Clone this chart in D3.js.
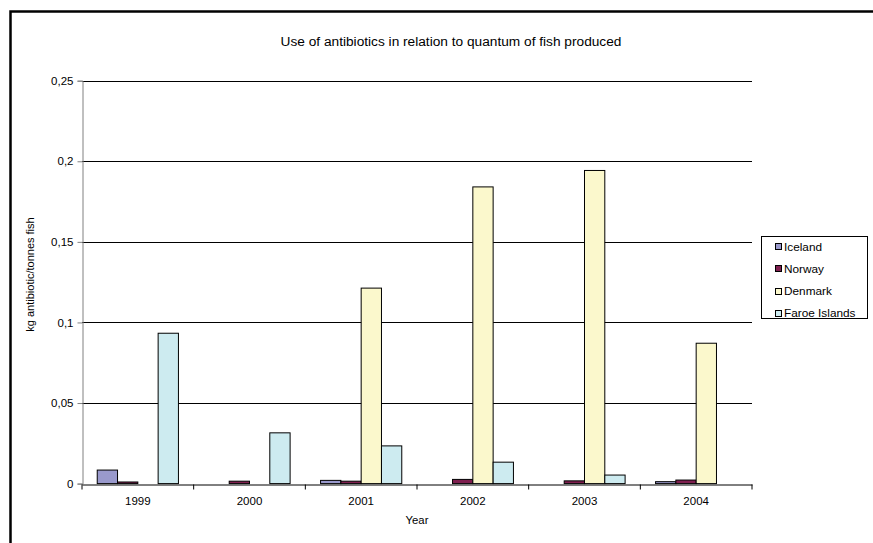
<!DOCTYPE html>
<html>
<head>
<meta charset="utf-8">
<script src="https://cdn.jsdelivr.net/npm/d3@7"></script>
<style>
  html, body { margin: 0; padding: 0; background: #fff; }
  svg text { font-family: "Liberation Sans", Arial, sans-serif; fill: #000; }
</style>
</head>
<body>
<svg id="chart" width="873" height="543"></svg>
<script>
const years = ["1999", "2000", "2001", "2002", "2003", "2004"];
const seriesNames = ["Iceland", "Norway", "Denmark", "Faroe Islands"];
const iceland = [0.0084, 0, 0.0020, 0, 0, 0.0012];
const norway = [0.0010, 0.0015, 0.0015, 0.0026, 0.0017, 0.0022];
const denmark = [0, 0, 0.1213, 0.1841, 0.1943, 0.0871];
const faroe = [0.0933, 0.0315, 0.0234, 0.0133, 0.0053, 0];
const yTicks = [0, 0.05, 0.1, 0.15, 0.2, 0.25];
const colors = ["#9999cc", "#7f1f4f", "#fbf8cc", "#cdebf0"];

const seriesValues = [iceland, norway, denmark, faroe];

const svg = d3.select("#chart");

// outer frame
svg.append("rect")
  .attr("x", 10.5).attr("y", 11.5)
  .attr("width", 900).attr("height", 600)
  .attr("fill", "none").attr("stroke", "#000").attr("stroke-width", 2.5);

const pLeft = 82, pRight = 752, pTop = 80.7, pBottom = 483.6;

const x = d3.scaleBand().domain(years).range([pLeft, pRight]).paddingInner(0).paddingOuter(0);
const xs = d3.scaleBand().domain(d3.range(seriesNames.length)).range([0, x.bandwidth()]).paddingInner(0).paddingOuter(0.75);
const y = d3.scaleLinear().domain([0, 0.25]).range([pBottom, pTop]);

const fmt = v => String(v).replace(".", ",");

// gridlines
svg.append("g").selectAll("line").data(yTicks.filter(t => t > 0)).join("line")
  .attr("x1", pLeft).attr("x2", pRight)
  .attr("y1", d => Math.round(y(d)) + 0.5).attr("y2", d => Math.round(y(d)) + 0.5)
  .attr("stroke", "#000").attr("stroke-width", 1);

// bars
seriesValues.forEach((vals, si) => {
  svg.append("g").selectAll("rect").data(vals.map((v, i) => ({ v, yr: years[i] })).filter(d => d.v > 0)).join("rect")
    .attr("x", d => x(d.yr) + xs(si))
    .attr("width", xs.bandwidth())
    .attr("y", d => y(d.v))
    .attr("height", d => pBottom - y(d.v))
    .attr("fill", colors[si])
    .attr("stroke", "#000").attr("stroke-width", 1);
});

// y axis
const yAxis = d3.axisLeft(y).tickValues(yTicks).tickFormat(fmt).tickSize(5).tickPadding(4);
const gy = svg.append("g").attr("transform", `translate(${pLeft + 0.5},0)`).call(yAxis);
gy.select(".domain").attr("stroke", "#808080");
gy.selectAll(".tick line").attr("stroke", "#808080");
gy.selectAll("text").attr("font-size", 11.5).attr("fill", "#000")
  .attr("font-family", "Liberation Sans, Arial, sans-serif");

// x axis
const xAxis = d3.axisBottom(x).tickSize(0).tickPadding(12);
const gx = svg.append("g").attr("transform", `translate(0,${Math.round(pBottom) + 0.5})`).call(xAxis);
gx.select(".domain").attr("stroke", "#000");
gx.selectAll("text").attr("font-size", 11.5).attr("fill", "#000")
  .attr("font-family", "Liberation Sans, Arial, sans-serif");
// category separator ticks
gx.append("g").selectAll("line").data(years.concat(["end"])).join("line")
  .attr("x1", (d, i) => pLeft + i * x.step()).attr("x2", (d, i) => pLeft + i * x.step())
  .attr("y1", 0).attr("y2", 5).attr("stroke", "#000");

// title
svg.append("text").attr("x", 451).attr("y", 46).attr("text-anchor", "middle")
  .attr("font-size", 13.7).text("Use of antibiotics in relation to quantum of fish produced");

// axis titles
svg.append("text").attr("x", (pLeft + pRight) / 2).attr("y", 524).attr("text-anchor", "middle")
  .attr("font-size", 11.3).text("Year");
svg.append("text").attr("transform", `translate(34,274.5) rotate(-90)`)
  .attr("text-anchor", "middle").attr("font-size", 11).text("kg antibiotic/tonnes fish");

// legend
const lg = svg.append("g");
lg.append("rect").attr("x", 761.5).attr("y", 236.5).attr("width", 106).attr("height", 82)
  .attr("fill", "#fff").attr("stroke", "#000").attr("stroke-width", 1);
const ly = d3.scalePoint().domain(seriesNames).range([246.7, 313.3]);
const items = lg.selectAll("g.item").data(seriesNames).join("g").attr("class", "item");
items.append("rect")
  .attr("x", 775.5).attr("y", d => Math.round(ly(d) - 3.5) + 0.5)
  .attr("width", 6).attr("height", 6)
  .attr("fill", (d, i) => colors[i]).attr("stroke", "#000");
items.append("text").attr("x", 784).attr("y", d => ly(d) + 4)
  .attr("font-size", 11.8).text(d => d);
</script>
</body>
</html>
